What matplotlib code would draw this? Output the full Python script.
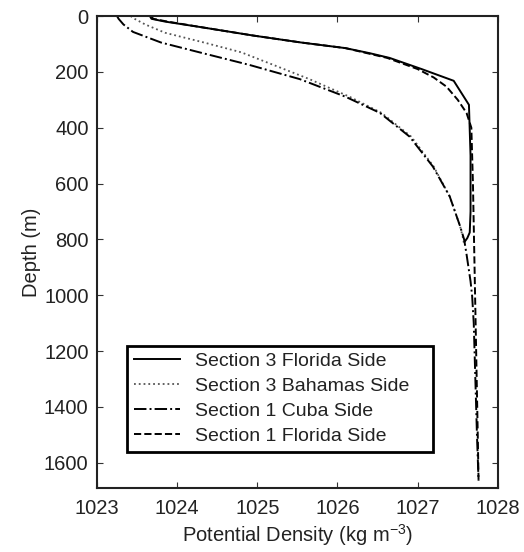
import matplotlib
matplotlib.use("Agg")
import matplotlib.pyplot as plt

plt.rcParams['font.family'] = ['Liberation Sans', 'DejaVu Sans']
plt.rcParams['mathtext.default'] = 'regular'

# Section 3 Florida Side (solid)
s3f_depth = [0, 10, 20, 40, 70, 95, 115, 133, 150, 190, 232, 318, 500, 700, 775, 795, 807]
s3f_dens = [1023.66, 1023.68, 1023.85, 1024.30, 1024.95, 1025.55, 1026.10, 1026.40, 1026.65,
            1027.05, 1027.45, 1027.64, 1027.66, 1027.66, 1027.65, 1027.62, 1027.59]

# Section 3 Bahamas Side (dotted)
s3b_depth = [0, 10, 30, 60, 96, 130, 175, 226, 289, 347, 432, 539, 646, 753, 800, 820]
s3b_dens = [1023.42, 1023.47, 1023.60, 1023.85, 1024.35, 1024.80, 1025.20, 1025.65, 1026.15,
            1026.55, 1026.92, 1027.20, 1027.40, 1027.53, 1027.57, 1027.58]

# Section 1 Cuba Side (dash-dot)
s1c_depth = [0, 10, 30, 57, 95, 128, 175, 226, 289, 347, 432, 539, 646, 753, 800, 853, 950,
             1003, 1100, 1300, 1500, 1664]
s1c_dens = [1023.25, 1023.27, 1023.33, 1023.45, 1023.80, 1024.25, 1024.90, 1025.53, 1026.10,
            1026.53, 1026.90, 1027.19, 1027.40, 1027.53, 1027.58, 1027.61, 1027.66, 1027.68,
            1027.70, 1027.72, 1027.74, 1027.76]

# Section 1 Florida Side (dashed)
s1f_depth = [0, 10, 20, 40, 70, 95, 115, 150, 190, 220, 253, 300, 347, 400, 600, 900, 1200,
             1500, 1664]
s1f_dens = [1023.68, 1023.70, 1023.88, 1024.30, 1024.95, 1025.55, 1026.10, 1026.62, 1027.00,
            1027.20, 1027.36, 1027.50, 1027.61, 1027.67, 1027.69, 1027.71, 1027.73, 1027.75,
            1027.76]

x_ticks = [1023, 1024, 1025, 1026, 1027, 1028]
y_ticks = [0, 200, 400, 600, 800, 1000, 1200, 1400, 1600]

fig = plt.figure(figsize=(5.24, 5.52), dpi=100)
ax = fig.add_axes([0.185, 0.116, 0.765, 0.855])

ax.plot(s3f_dens, s3f_depth, color='black', linestyle='-', linewidth=1.4, label='Section 3 Florida Side')
ax.plot(s3b_dens, s3b_depth, color='#555555', linestyle=':', linewidth=1.3, label='Section 3 Bahamas Side')
ax.plot(s1c_dens, s1c_depth, color='black', linestyle='-.', linewidth=1.4, label='Section 1 Cuba Side')
ax.plot(s1f_dens, s1f_depth, color='black', linestyle='--', linewidth=1.4, label='Section 1 Florida Side')

ax.set_xlim(1023, 1028)
ax.set_ylim(1690, 0)
ax.set_xticks(x_ticks)
ax.set_yticks(y_ticks)
ax.tick_params(direction='in', top=True, right=True, labelsize=14.5, length=4, width=0.8,
               colors='#333333', labelcolor='#222222')
ax.tick_params(axis='x', pad=8)
ax.tick_params(axis='y', pad=6)
for sp in ax.spines.values():
    sp.set_linewidth(1.5)
    sp.set_color('#222222')

ax.set_xlabel('Potential Density (kg m$^{-3}$)', fontsize=14.5, color='#222222', labelpad=3)
ax.set_ylabel('Depth (m)', fontsize=14.5, color='#222222', labelpad=2)

leg = ax.legend(loc='lower left', bbox_to_anchor=(0.075, 0.076, 0.763, 0.23), mode='expand',
                fontsize=14, fancybox=False, framealpha=1, edgecolor='black',
                handlelength=2.35, handletextpad=0.8, borderaxespad=0, labelspacing=0.38,
                borderpad=0.35)
leg.get_frame().set_linewidth(2)
for t in leg.get_texts():
    t.set_color('#222222')

fig.savefig('out.png', dpi=100)
